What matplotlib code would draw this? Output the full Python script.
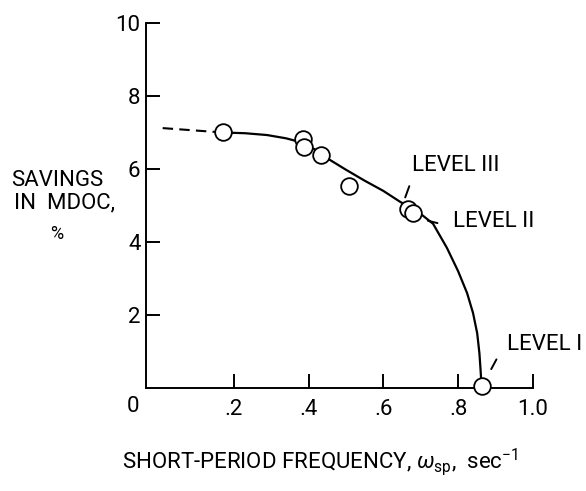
import matplotlib
matplotlib.use("Agg")
import matplotlib.pyplot as plt

# Data points (circles)
freq = [0.17, 0.385, 0.387, 0.433, 0.508, 0.666, 0.680, 0.864]
savings = [7.0, 6.82, 6.60, 6.38, 5.53, 4.90, 4.79, 0.05]

# Faired curve (solid part)
curve_x = [0.17, 0.23, 0.289, 0.34, 0.377, 0.42, 0.457, 0.50, 0.55, 0.60, 0.645,
           0.69, 0.733, 0.77, 0.80, 0.824, 0.840, 0.851, 0.857, 0.860, 0.863]
curve_y = [7.0, 6.98, 6.93, 6.84, 6.74, 6.52, 6.25, 5.98, 5.68, 5.40, 5.10,
           4.85, 4.50, 3.84, 3.20, 2.60, 2.05, 1.50, 0.95, 0.50, 0.0]
# Extrapolated (dashed) part
dash_x = [0.01, 0.17]
dash_y = [7.12, 7.0]

xticks = [0.2, 0.4, 0.6, 0.8, 1.0]
xticklabels = [".2", ".4", ".6", ".8", "1.0"]
yticks = [2, 4, 6, 8, 10]
yticklabels = ["2", "4", "6", "8", "10"]

fam = 'Roboto'
plt.rcParams['font.family'] = [fam, 'DejaVu Sans']
plt.rcParams['mathtext.fontset'] = 'custom'
plt.rcParams['mathtext.rm'] = fam
plt.rcParams['mathtext.it'] = fam + ':italic'
fs = 16

fig = plt.figure(figsize=(5.86, 4.91), dpi=100)
ax = fig.add_axes([0.249, 0.2098, 0.6604, 0.7434])
ax.set_xlim(-0.0348, 1.0)
ax.set_ylim(0, 10)

for s in ['top', 'right']:
    ax.spines[s].set_visible(False)
for s in ['left', 'bottom']:
    ax.spines[s].set_linewidth(1.4)

ax.set_xticks(xticks)
ax.set_xticklabels(xticklabels)
ax.set_yticks(yticks)
ax.set_yticklabels(yticklabels)
ax.tick_params(axis='both', direction='in', length=10, width=1.4, labelsize=fs)
ax.tick_params(axis='x', pad=8)
ax.tick_params(axis='y', pad=4)

ax.plot(dash_x, dash_y, color='black', lw=1.5, ls=(0, (5, 3)))
ax.plot(curve_x, curve_y, color='black', lw=1.6)
ax.plot(freq, savings, 'o', ms=12, mfc='white', mec='black', mew=1.3, clip_on=False, zorder=5)

# origin label
fig.text(133 / 586, 1 - 407 / 491, "0", fontsize=fs, ha='center', va='center')

# Annotations
ax.annotate("", xy=(0.656, 5.15), xytext=(0.672, 5.6),
            arrowprops=dict(arrowstyle='-', lw=1.4, color='black'))
ax.text(0.677, 6.1, "LEVEL III", fontsize=fs, ha='left', va='center')
ax.annotate("", xy=(0.712, 4.6), xytext=(0.752, 4.5),
            arrowprops=dict(arrowstyle='-', lw=1.4, color='black'))
ax.text(0.787, 4.55, "LEVEL II", fontsize=fs, ha='left', va='center')
ax.annotate("", xy=(0.885, 0.45), xytext=(0.906, 0.85),
            arrowprops=dict(arrowstyle='-', lw=1.4, color='black'))
ax.text(0.931, 1.18, "LEVEL I", fontsize=fs, ha='left', va='center')

# Axis labels
fig.text(57 / 586, 1 - 180 / 491, "SAVINGS", fontsize=fs, ha='center', va='center')
fig.text(64 / 586, 1 - 203 / 491, "IN  MDOC,", fontsize=fs, ha='center', va='center')
fig.text(57 / 586, 1 - 234 / 491, "%", fontsize=fs - 3, ha='center', va='center')

fig.text(320 / 586, 1 - 462 / 491,
         r"SHORT-PERIOD FREQUENCY, $\omega_{\mathrm{sp}}$,  sec$^{-1}$",
         fontsize=fs, ha='center', va='center')

fig.savefig("out.png", dpi=100, facecolor='white')
